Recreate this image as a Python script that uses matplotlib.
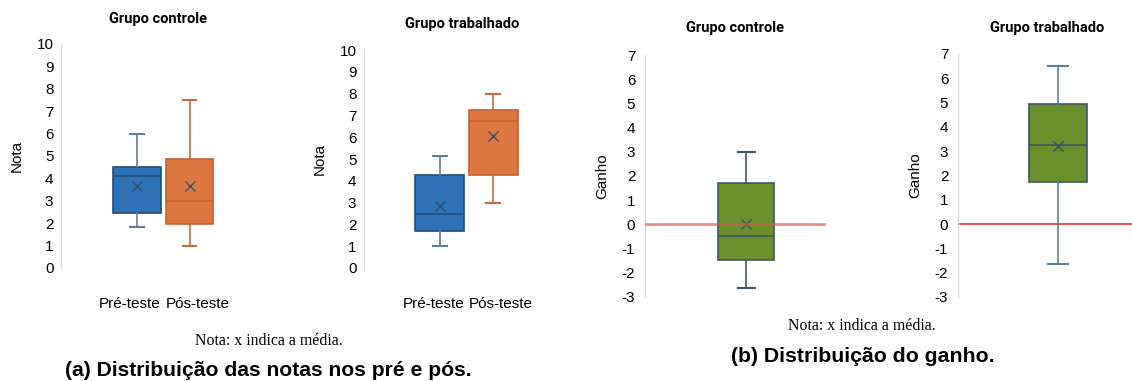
import matplotlib.pyplot as plt

# five-number summaries + mean
stat_keys = ["whislo", "q1", "med", "q3", "whishi", "mean"]

ctrl_pre = [1.85, 2.45, 4.1, 4.5, 6.0, 3.65]
ctrl_pos = [1.0, 1.95, 3.0, 4.85, 7.5, 3.65]
trab_pre = [1.0, 1.7, 2.5, 4.25, 5.15, 2.85]
trab_pos = [3.0, 4.25, 6.75, 7.25, 8.0, 6.05]
ganho_ctrl = [-2.65, -1.5, -0.5, 1.7, 3.0, 0.0]
ganho_trab = [-1.65, 1.75, 3.25, 4.95, 6.5, 3.2]

teste_labels = ["Pré-teste", "Pós-teste"]
nota_ticks = list(range(0, 11))
ganho_ticks = list(range(-3, 8))

BLUE = "#2E72B8"
ORANGE = "#DD7843"
GREEN = "#6A8F2D"

plt.rcParams["font.family"] = ["Liberation Sans", "DejaVu Sans"]
plt.rcParams["axes.unicode_minus"] = False


def to_stats(vals):
    d = dict(zip(stat_keys, vals))
    d["fliers"] = []
    return d


def draw_box(ax, vals, pos, width, cap, face, edge, whisk):
    ax.bxp([to_stats(vals)], positions=[pos], widths=width, capwidths=cap,
           showmeans=True, showfliers=False, patch_artist=True,
           boxprops=dict(facecolor=face, edgecolor=edge, linewidth=1.2),
           medianprops=dict(color=edge, linewidth=1.2),
           whiskerprops=dict(color=whisk, linewidth=1.2),
           capprops=dict(color=whisk, linewidth=1.5),
           meanprops=dict(marker="x", markeredgecolor="#34506A", markersize=7.5,
                          markeredgewidth=1.0))


def style(ax, ticks, ylabel, pad):
    for s in ["top", "right", "bottom"]:
        ax.spines[s].set_visible(False)
    ax.spines["left"].set_color("#D9D9D9")
    ax.set_yticks(ticks)
    ax.set_ylim(ticks[0], ticks[-1])
    ax.tick_params(axis="y", length=0, labelsize=11, pad=pad)
    ax.tick_params(axis="x", length=0, labelsize=11, pad=21)
    ax.set_ylabel(ylabel, fontsize=11, labelpad=9)


def cat_labels(ax, width):
    # first label ends at right edge of box 1, second starts at left edge of box 2
    ax.set_xticks([1 + width / 2, 2 - width / 2], teste_labels)
    lbls = ax.get_xticklabels()
    lbls[0].set_ha("right")
    lbls[1].set_ha("left")


fig = plt.figure(figsize=(11.32, 3.81), dpi=100)

# (a) notas
ax1 = fig.add_axes([0.0539, 0.2966, 0.151, 0.588])
draw_box(ax1, ctrl_pre, 1, 0.9, 0.26, BLUE, "#1F4E79", "#5F7D96")
draw_box(ax1, ctrl_pos, 2, 0.9, 0.26, ORANGE, "#C4622F", "#C96A3E")
ax1.set_xlim(-0.43, 2.8)
style(ax1, nota_ticks, "Nota", 5.5)
cat_labels(ax1, 0.9)

ax2 = fig.add_axes([0.3216, 0.2966, 0.152, 0.572])
draw_box(ax2, trab_pre, 1, 0.92, 0.26, BLUE, "#1F4E79", "#5F7D96")
draw_box(ax2, trab_pos, 2, 0.92, 0.26, ORANGE, "#C4622F", "#C96A3E")
ax2.set_xlim(-0.41, 2.8)
style(ax2, nota_ticks, "Nota", 5.5)
cat_labels(ax2, 0.92)

# (b) ganho
ax3 = fig.add_axes([0.5698, 0.2213, 0.1599, 0.6343])
draw_box(ax3, ganho_ctrl, 1, 0.31, 0.094, GREEN, "#3E5666", "#3E5A70")
ax3.axhline(0, color="#E0554A", alpha=0.65, linewidth=2, zorder=5)
ax3.set_xlim(0.442, 1.442)
ax3.set_xticks([])
style(ax3, ganho_ticks, "Ganho", 7)

ax4 = fig.add_axes([0.8463, 0.2205, 0.1537, 0.6378])
ax4.axhline(0, color="#E53935", linewidth=1.2, zorder=0)
draw_box(ax4, ganho_trab, 1, 0.33, 0.11, GREEN, "#3E5666", "#5F7D96")
ax4.set_xlim(0.425, 1.425)
ax4.set_xticks([])
style(ax4, ganho_ticks, "Ganho", 7)

# titles
title_font = dict(ha="center", va="center", fontsize=10.5, fontweight="bold",
                  family=["Roboto", "DejaVu Sans"])
fig.text(158 / 1132, 1 - 19 / 381, "Grupo controle", **title_font)
fig.text(462 / 1132, 1 - 24 / 381, "Grupo trabalhado", **title_font)
fig.text(735 / 1132, 1 - 28 / 381, "Grupo controle", **title_font)
fig.text(1047 / 1132, 1 - 28 / 381, "Grupo trabalhado", **title_font)

# notes and captions
note_font = dict(ha="center", va="center", fontsize=11.4,
                 family=["Liberation Serif", "DejaVu Serif"])
fig.text(269 / 1132, 1 - 341 / 381, "Nota: x indica a média.", **note_font)
fig.text(862 / 1132, 1 - 326 / 381, "Nota: x indica a média.", **note_font)
fig.text(268 / 1132, 1 - 370 / 381, "(a) Distribuição das notas nos pré e pós.",
         ha="center", va="center", fontsize=15.2, fontweight="bold")
fig.text(863 / 1132, 1 - 357 / 381, "(b) Distribuição do ganho.",
         ha="center", va="center", fontsize=15.3, fontweight="bold")

fig.savefig("out.png", dpi=100)
